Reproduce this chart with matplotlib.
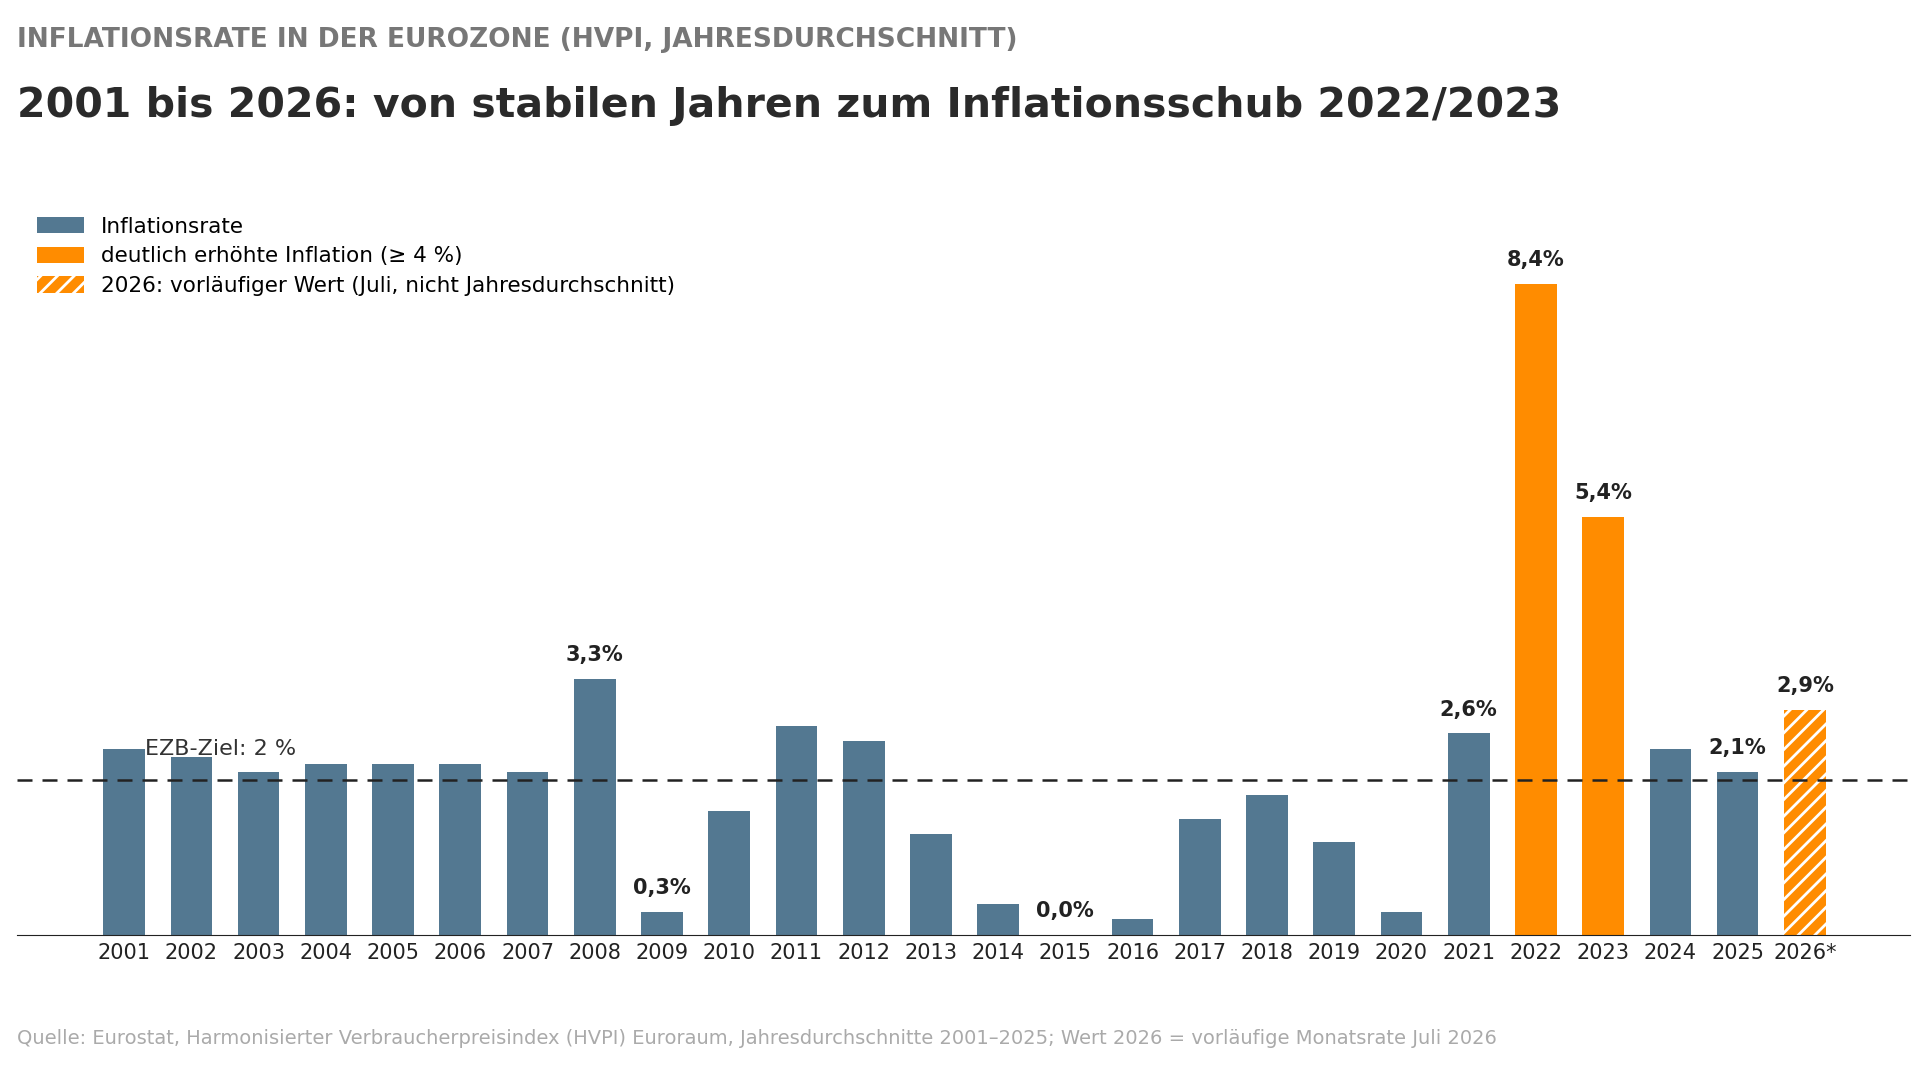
import matplotlib
matplotlib.use("Agg")
import matplotlib.pyplot as plt
from matplotlib.patches import Patch

years = [str(y) for y in range(2001, 2026)] + ["2026*"]
values = [2.4, 2.3, 2.1, 2.2, 2.2, 2.2, 2.1, 3.3, 0.3, 1.6, 2.7, 2.5, 1.3, 0.4, 0.0,
          0.2, 1.5, 1.8, 1.2, 0.3, 2.6, 8.4, 5.4, 2.4, 2.1, 2.9]
labeled = ["2008", "2009", "2015", "2021", "2022", "2023", "2025", "2026*"]
target = 2.0

BLUE = "#537891"
ORANGE = "#ff8c00"
plt.rcParams['hatch.color'] = 'white'
plt.rcParams['hatch.linewidth'] = 2

fig = plt.figure(figsize=(19.2, 10.69), dpi=100)
ax = fig.add_axes([0.009, 0.1254, 0.986, 0.69])
x = list(range(len(years)))
for i, (yr, v) in enumerate(zip(years, values)):
    c = ORANGE if v >= 4 or yr.endswith("*") else BLUE
    hatch = "//" if yr.endswith("*") else None
    ax.bar(i, v, width=0.62, color=c, hatch=hatch, edgecolor="white" if hatch else c, linewidth=0)
    if yr in labeled:
        ax.text(i, v + 0.18, f"{v:.1f}%".replace(".", ","), ha="center", va="bottom",
                fontsize=15, fontweight="bold", color="#222222")
ax.axhline(target, color="#222222", linestyle=(0, (6, 4)), linewidth=1.8)
ax.text(0.31, target + 0.27, "EZB-Ziel: 2 %", fontsize=16, color="#333333", ha="left", va="bottom")
ax.set_xlim(-1.59, 26.57)
ax.set_ylim(0, 9.52)
ax.set_xticks(x)
ax.set_xticklabels(years, fontsize=15, color="#222222")
ax.tick_params(axis="x", length=0, pad=6)
ax.set_yticks([])
for s in ["top", "right", "left"]:
    ax.spines[s].set_visible(False)
ax.spines["bottom"].set_color("#222222")

handles = [Patch(facecolor=BLUE, label="Inflationsrate"),
           Patch(facecolor=ORANGE, label="deutlich erhöhte Inflation (≥ 4 %)"),
           Patch(facecolor=ORANGE, hatch="//", edgecolor="white", linewidth=0,
                 label="2026: vorläufiger Wert (Juli, nicht Jahresdurchschnitt)")]
ax.legend(handles=handles, loc="upper left", bbox_to_anchor=(0.0, 1.0), frameon=False,
          fontsize=15.5, handlelength=2.2, handleheight=0.8, labelspacing=0.45)

fig.text(0.009, 0.975, "INFLATIONSRATE IN DER EUROZONE (HVPI, JAHRESDURCHSCHNITT)",
         fontsize=19, fontweight="bold", color="#777777", va="top")
fig.text(0.009, 0.92, "2001 bis 2026: von stabilen Jahren zum Inflationsschub 2022/2023",
         fontsize=29.5, fontweight="bold", color="#2a2a2a", va="top")
fig.text(0.009, 0.02, "Quelle: Eurostat, Harmonisierter Verbraucherpreisindex (HVPI) Euroraum, Jahresdurchschnitte 2001–2025; Wert 2026 = vorläufige Monatsrate Juli 2026",
         fontsize=14, color="#aaaaaa", va="bottom")
fig.savefig("out.png", dpi=100)
